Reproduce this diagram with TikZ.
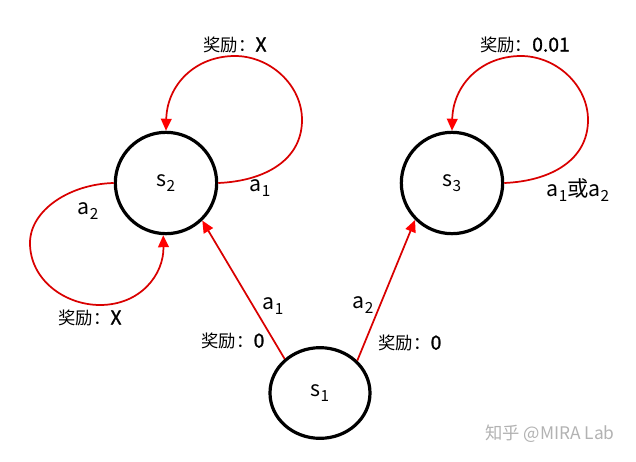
\documentclass[tikz,border=0pt]{standalone}
\usepackage{fontspec}
\setmainfont{Noto Sans CJK SC}
\newfontfamily\numfont[FakeBold=1.3]{Noto Sans CJK SC}
\usetikzlibrary{arrows.meta,shapes.geometric}
\newcommand\subx[1]{\raisebox{-0.45ex}{\fontsize{11.5}{12}\selectfont #1}}
\newcommand\numx[1]{{\numfont\fontsize{14.5}{15}\selectfont #1}}
\tikzset{
  state/.style={circle,draw=black,line width=2.4pt,minimum size=76pt,inner sep=0pt,font=\fontsize{16}{18}\selectfont},
  sone/.style={ellipse,draw=black,line width=2.4pt,minimum width=75pt,minimum height=68pt,inner sep=0pt,font=\fontsize{16}{18}\selectfont},
  trans/.style={draw=red!85!black,line width=1.3pt,-{Triangle[length=9pt,width=8pt,fill=red,color=red]}},
  rew/.style={font=\fontsize{13}{15}\selectfont},
  act/.style={font=\fontsize{16}{18}\selectfont},
  wm/.style={font=\fontsize{13}{15}\selectfont,text=black!30}
}
\begin{document}
\begin{tikzpicture}[x=0.75pt,y=-0.75pt]
\useasboundingbox (0,0) rectangle (636,461);
\node[state] (s2) at (166,183) {s\subx{2}};
\node[state] (s3) at (452,183) {s\subx{3}};
\node[sone] (s1) at (320,393) {s\subx{1}};

% s2 upper self-loop
\draw[trans] (s2.east) .. controls (265,181) and (302,160) .. (302,120)
  .. controls (302,85) and (270,56) .. (235,56)
  .. controls (195,56) and (167,85) .. (s2.north);
% s2 lower self-loop
\draw[trans] (s2.west) .. controls (70,184) and (30,210) .. (30,243)
  .. controls (30,280) and (65,305) .. (100,305)
  .. controls (140,305) and (164,275) .. (s2.-93);
% s3 self-loop
\draw[trans] (s3.east) .. controls (551,181) and (588,160) .. (588,120)
  .. controls (588,85) and (556,56) .. (521,56)
  .. controls (481,56) and (453,85) .. (s3.north);
% s1 -> s2, s1 -> s3
\draw[trans] (s1.136) -- (s2.-46);
\draw[trans] (s1.41) -- (s3.225);

\node[rew] (r2a) at (235,45) {奖励：\numx{X}};
\node[act] (l2a) at (260,188) {a\subx{1}};
\node[act] (l2b) at (88,211) {a\subx{2}};
\node[rew] (r2b) at (90,318) {奖励：\numx{X}};
\node[act] (l1a) at (273,306) {a\subx{1}};
\node[rew] (r1a) at (233,341) {奖励：\numx{0}};
\node[act] (l1b) at (363,305) {a\subx{2}};
\node[rew] (r1b) at (410,343) {奖励：\numx{0}};
\node[rew] (r3) at (525,45) {奖励：\numx{0.01}};
\node[act] (l3) at (578,190) {a\subx{1}或a\subx{2}};
\node[wm] (wm) at (550,434) {知乎 @MIRA Lab};
\end{tikzpicture}
\end{document}
